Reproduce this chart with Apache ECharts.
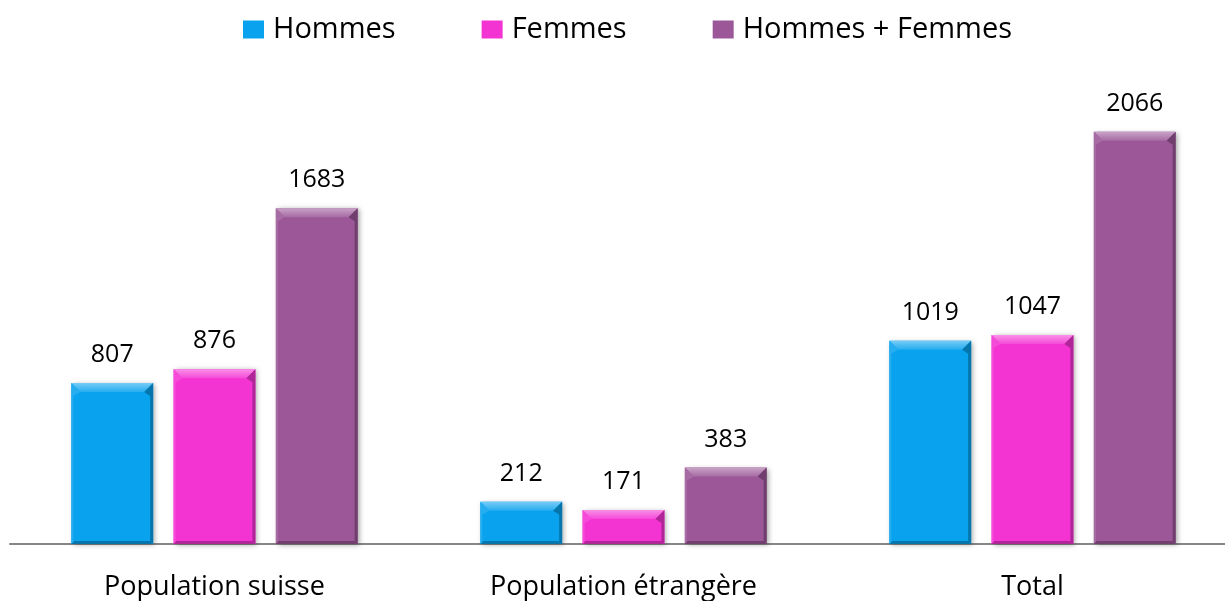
<!DOCTYPE html>
<html>
<head>
<meta charset="utf-8">
<script src="https://cdn.jsdelivr.net/npm/echarts@6/dist/echarts.min.js"></script>
<style>
  html, body { margin: 0; padding: 0; background: #fff; }
  #chart { width: 1225px; height: 601px; }
</style>
</head>
<body>
<div id="chart"></div>
<script>
var categories = ['Population suisse', 'Population étrangère', 'Total']
var seriesNames = ['Hommes', 'Femmes', 'Hommes + Femmes']
var hommes = [807, 212, 1019]
var femmes = [876, 171, 1047]
var total = [1683, 383, 2066]

var colors = ['#08a2ee', '#f433d3', '#9b5798']
var fontName = 'Open Sans'

// blend a hex colour toward another one
function mix(hex, target, t) {
  var a = parseInt(hex.slice(1), 16)
  var b = parseInt(target.slice(1), 16)
  var r = Math.round(((a >> 16) & 255) * (1 - t) + ((b >> 16) & 255) * t)
  var g = Math.round(((a >> 8) & 255) * (1 - t) + ((b >> 8) & 255) * t)
  var bl = Math.round((a & 255) * (1 - t) + (b & 255) * t)
  return 'rgb(' + r + ',' + g + ',' + bl + ')'
}

// bevelled bar, slot = position of the bar inside its category
function bevelBar(slot, color) {
  return function (params, api) {
    var idx = api.value(0)
    var val = api.value(1)
    var top = api.coord([idx, val])
    var base = api.coord([idx, 0])
    var band = api.size([1, 0])[0]
    var bw = band * 0.2
    var cx = top[0] + (slot - 1) * band * 0.25
    var x0 = cx - bw / 2, x1 = cx + bw / 2
    var y0 = top[1], y1 = base[1]
    var b = Math.min(9, (y1 - y0) / 3)
    var light = mix(color, '#ffffff', 0.45)
    var dark = mix(color, '#000000', 0.28)
    return {
      type: 'group',
      children: [
        {
          type: 'rect',
          shape: { x: x0, y: y0, width: bw, height: y1 - y0 },
          style: {
            fill: color,
            shadowBlur: 5,
            shadowColor: 'rgba(0,0,0,0.35)',
            shadowOffsetX: 2,
            shadowOffsetY: 1
          }
        },
        {
          type: 'polygon',
          shape: { points: [[x0, y0], [x1, y0], [x1 - b, y0 + b], [x0 + b, y0 + b]] },
          style: {
            fill: new echarts.graphic.LinearGradient(0, 0, 0, 1, [
              { offset: 0, color: light },
              { offset: 1, color: mix(color, '#ffffff', 0.12) }
            ])
          }
        },
        {
          type: 'polygon',
          shape: { points: [[x0, y0], [x0 + b, y0 + b], [x0 + 2, y0 + b + 4], [x0 + 2, y1 - 2], [x0, y1]] },
          style: { fill: mix(color, '#ffffff', 0.12) }
        },
        {
          type: 'polygon',
          shape: { points: [[x1, y0], [x1 - b, y0 + b], [x1 - 3, y0 + b + 4], [x1 - 3, y1 - 3], [x1, y1]] },
          style: { fill: dark }
        },
        {
          type: 'polygon',
          shape: { points: [[x0, y1], [x1, y1], [x1 - 3, y1 - 3], [x0 + 3, y1 - 3]] },
          style: { fill: dark }
        },
        {
          type: 'text',
          style: {
            text: String(val),
            x: cx,
            y: y0 - 28,
            align: 'center',
            verticalAlign: 'middle',
            fontFamily: fontName,
            fontSize: 25,
            fill: '#000'
          }
        }
      ]
    }
  }
}

var allValues = [hommes, femmes, total]
var series = seriesNames.map(function (name, i) {
  return {
    name: name,
    type: 'custom',
    renderItem: bevelBar(i, colors[i]),
    itemStyle: { color: colors[i] },
    encode: { x: 0, y: 1 },
    data: allValues[i].map(function (v, k) { return [k, v] })
  }
})

var chart = echarts.init(document.getElementById('chart'))
var option = {
  animation: false,
  legend: {
    top: 10,
    left: 238,
    icon: 'rect',
    itemWidth: 21,
    itemHeight: 18,
    itemGap: 86,
    textStyle: { fontFamily: fontName, fontSize: 29, color: '#000', padding: [0, 0, 0, 4] },
    data: seriesNames
  },
  grid: { left: 10, width: 1227, top: 105, bottom: 57, outerBoundsMode: 'none' },
  xAxis: {
    type: 'category',
    data: categories,
    axisLine: { lineStyle: { color: '#868686', width: 2 } },
    axisTick: { show: false },
    axisLabel: { fontFamily: fontName, fontSize: 27, color: '#000', margin: 30 }
  },
  yAxis: {
    type: 'value',
    min: 0,
    max: 2200,
    show: false
  },
  series: series
}
chart.setOption(option)
</script>
</body>
</html>
